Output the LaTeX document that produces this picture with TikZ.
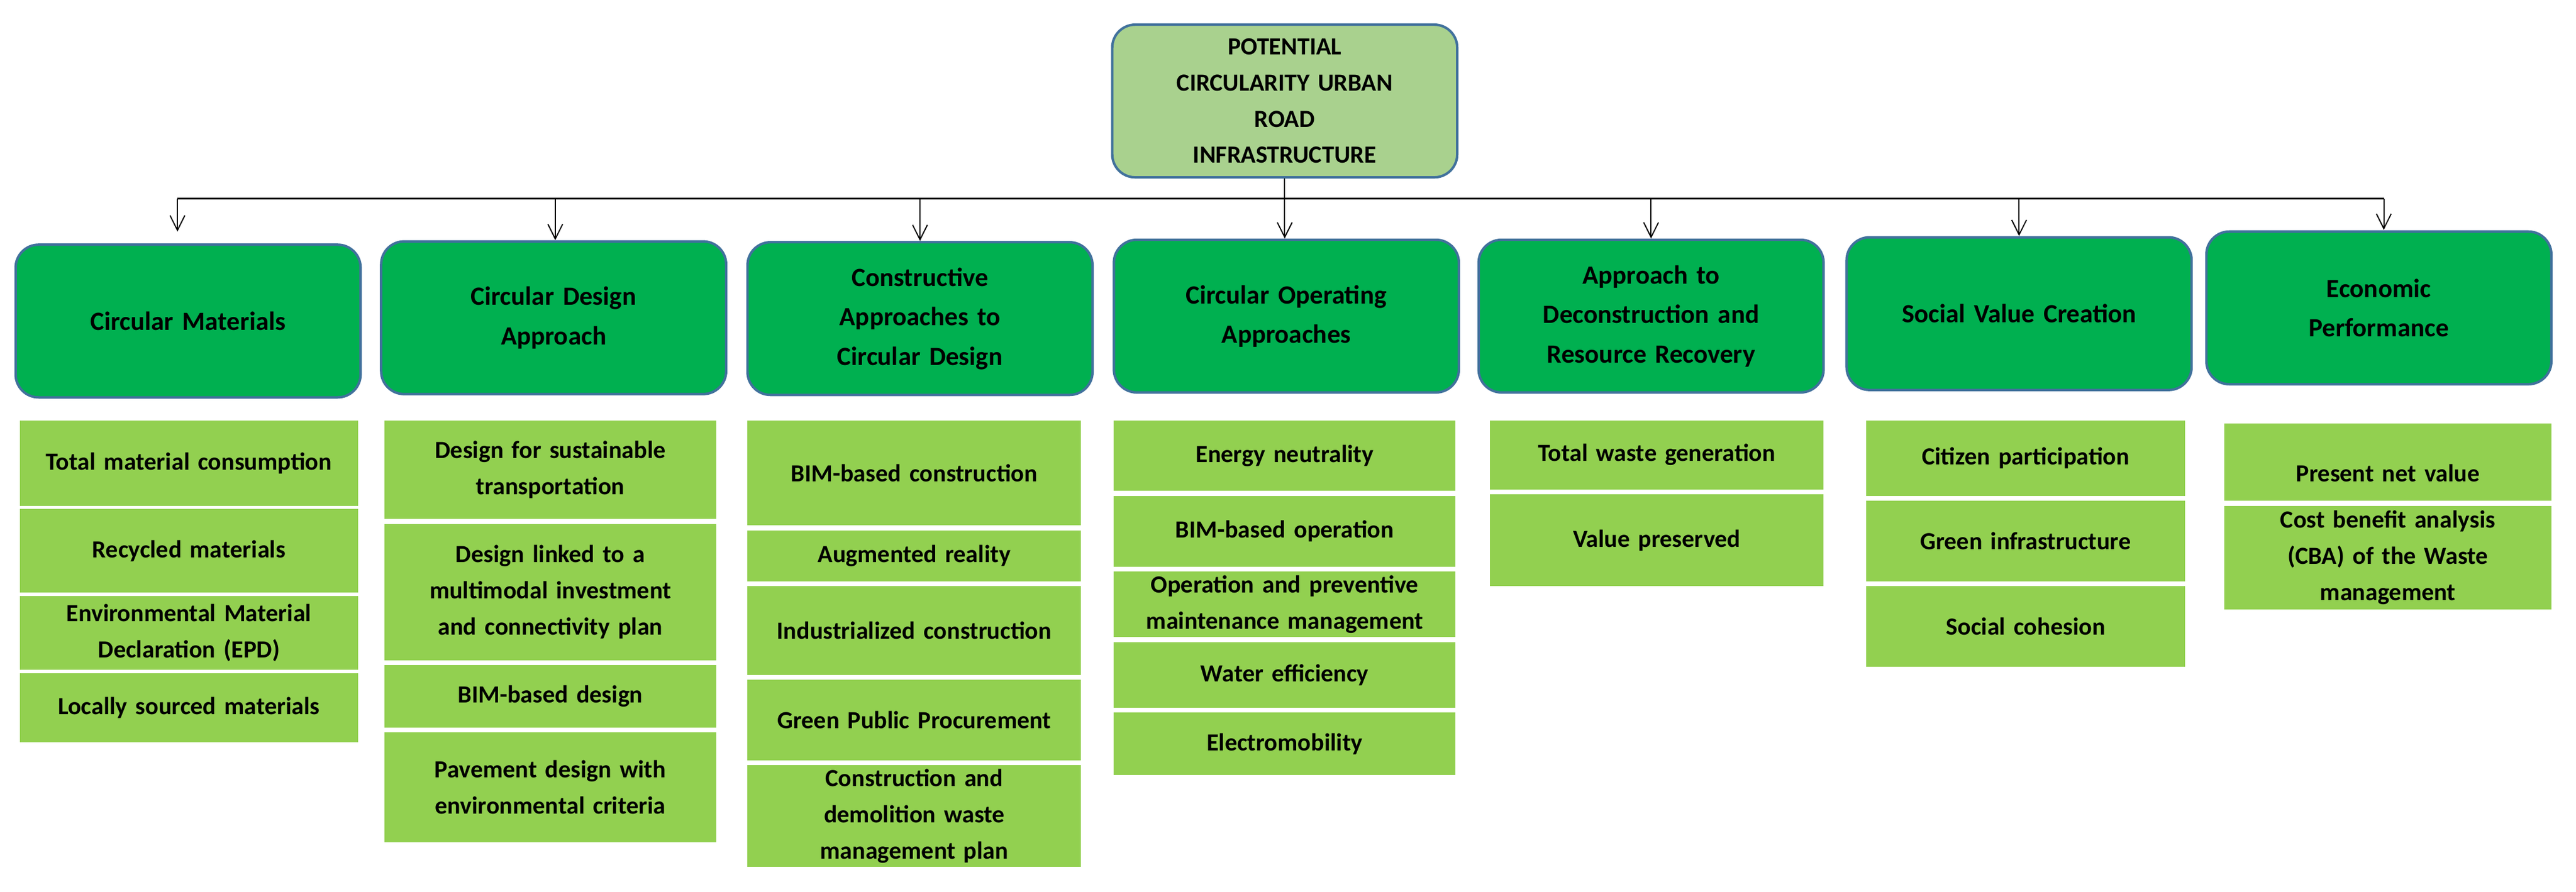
\documentclass[tikz,border=0pt]{standalone}
\usepackage{fontspec}
\setmainfont{Carlito}
\usetikzlibrary{arrows.meta}
\definecolor{dkg}{HTML}{00B050}
\definecolor{ltg}{HTML}{92D050}
\definecolor{rootg}{HTML}{A9D18E}
\definecolor{bord}{HTML}{41719C}
\tikzset{
 rootbox/.style={draw=bord,line width=1.5pt,fill=rootg,rounded corners=14pt,align=center,font=\bfseries\fontsize{15}{22}\selectfont,inner sep=0pt},
 headbox/.style={draw=bord,line width=1.5pt,fill=dkg,rounded corners=14pt,align=center,text width=185pt,minimum width=210pt,minimum height=93pt,font=\bfseries\fontsize{16}{24}\selectfont,inner sep=0pt},
 subbox/.style={fill=ltg,align=center,inner sep=0pt,font=\bfseries\fontsize{15}{22}\selectfont},
 arr/.style={-{Straight Barb[length=9pt,width=9pt]},line width=0.7pt},
}
\newcommand\subb[6]{% name, x1, y1, x2, y2, text
 \node[subbox,minimum width=#4-#2,minimum height=#5-#3,text width=#4-#2-4] (#1) at ({(#2+#4)/2},{(#3+#5)/2}) {#6};}
\begin{document}
\begin{tikzpicture}[x=1pt,y=-1pt]
\useasboundingbox (0,0) rectangle (1568,543);
\node[rootbox,minimum width=210pt,minimum height=93pt,text width=200pt] (root) at (782,61.5) {POTENTIAL\\CIRCULARITY URBAN\\ROAD\\INFRASTRUCTURE};
\node[headbox] (h1) at (114.5,195.5) {Circular Materials};
\node[headbox] (h2) at (337,193.5) {Circular Design\\Approach};
\node[headbox] (h3) at (560,194) {Constructive\\Approaches to\\Circular Design};
\node[headbox] (h4) at (783,192.5) {Circular Operating\\Approaches};
\node[headbox] (h5) at (1005,192.5) {Approach to\\Deconstruction and\\Resource Recovery};
\node[headbox] (h6) at (1229,191) {Social Value Creation};
\node[headbox] (h7) at (1448,187.5) {Economic\\Performance};
\coordinate (busL) at (108,121);
\coordinate (busR) at (1451,121);
\draw[line width=1.2pt] (busL) -- (busR);
\draw[line width=0.7pt] (root.south) -- (root.south |- busL);
\draw[arr] (busL) -- (108,141);
\foreach \i/\x in {2/338,3/560,4/782,5/1005,6/1229}{\draw[arr] (\x,121) -- (h\i.north -| \x,0);}
\draw[arr] (busR) -- (1451,140);
% column 1
\subb{a1}{12}{256}{218}{308}{Total material consumption}
\subb{a2}{12}{310}{218}{361}{Recycled materials}
\subb{a3}{12}{363}{218}{408}{Environmental Material\\Declaration (EPD)}
\subb{a4}{12}{410}{218}{452}{Locally sourced materials}
% column 2
\subb{b1}{234}{256}{436}{316}{Design for sustainable\\transportation}
\subb{b2}{234}{319}{436}{402}{Design linked to a\\multimodal investment\\and connectivity plan\\[10pt]}
\subb{b3}{234}{405}{436}{443}{BIM-based design}
\subb{b4}{234}{446}{436}{513}{Pavement design with\\environmental criteria}
% column 3
\subb{c1}{455}{256}{658}{320}{BIM-based construction}
\subb{c2}{455}{323}{658}{354}{Augmented reality}
\subb{c3}{455}{357}{658}{411}{Industrialized construction}
\subb{c4}{455}{414}{658}{463}{Green Public Procurement}
\subb{c5}{455}{466}{658}{528}{Construction and\\demolition waste\\management plan}
% column 4
\subb{d1}{678}{256}{886}{299}{Energy neutrality}
\subb{d2}{678}{302}{886}{345}{BIM-based operation}
\subb{d3}{678}{348}{886}{388}{Operation and preventive\\maintenance management}
\subb{d4}{678}{391}{886}{431}{Water efficiency}
\subb{d5}{678}{434}{886}{472}{Electromobility}
% column 5
\subb{e1}{907}{256}{1110}{298}{Total waste generation}
\subb{e2}{907}{301}{1110}{357}{Value preserved}
% column 6
\subb{f1}{1136}{256}{1330}{302}{Citizen participation}
\subb{f2}{1136}{305}{1330}{354}{Green infrastructure}
\subb{f3}{1136}{357}{1330}{406}{Social cohesion}
% column 7
\subb{g1}{1354}{258}{1553}{305}{\mbox{}\\[2pt]Present net value}
\subb{g2}{1354}{308}{1553}{371}{Cost benefit analysis\\(CBA) of the Waste\\management}
\end{tikzpicture}
\end{document}
